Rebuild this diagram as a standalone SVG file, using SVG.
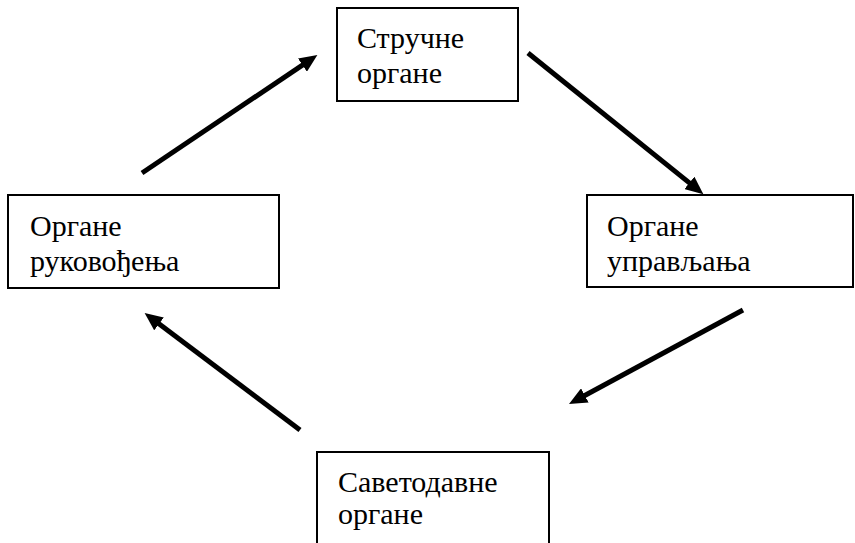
<svg xmlns="http://www.w3.org/2000/svg" width="855" height="543" viewBox="0 0 855 543">
<style>
.box{fill:#fff;stroke:#000;stroke-width:2}
.c{stroke:#000;stroke-width:5;fill:none}
.t{font-family:"Times New Roman","Liberation Serif",serif;font-size:30px;fill:#000}
</style>
<defs>
<marker id="ah" markerUnits="userSpaceOnUse" markerWidth="18" markerHeight="16" viewBox="0 0 18 16" refX="8" refY="8" orient="auto">
<path d="M0,0 L18,8 L0,16 z" fill="#000"/>
</marker>
</defs>
<rect width="855" height="543" fill="#fff"/>
<g id="connectors">
<line class="c" x1="142" y1="173" x2="309.1" y2="60.6" marker-end="url(#ah)"/>
<line class="c" x1="528" y1="53" x2="695.6" y2="187.9" marker-end="url(#ah)"/>
<line class="c" x1="743" y1="310" x2="577.8" y2="399.2" marker-end="url(#ah)"/>
<line class="c" x1="300" y1="430" x2="152.6" y2="319.1" marker-end="url(#ah)"/>
</g>
<g id="strucne">
<rect class="box" x="337" y="8" width="181" height="93"/>
<text class="t" x="357" y="48" font-family="Times New Roman, serif">Стручне</text>
<text class="t" x="357" y="83" font-family="Times New Roman, serif">органе</text>
</g>
<g id="rukovodjenja">
<rect class="box" x="8" y="195" width="271" height="93"/>
<text class="t" x="30" y="236" font-family="Times New Roman, serif">Органе</text>
<text class="t" x="30" y="271" font-family="Times New Roman, serif">руковођења</text>
</g>
<g id="upravljanja">
<rect class="box" x="587" y="195" width="266" height="92"/>
<text class="t" x="607" y="236" font-family="Times New Roman, serif">Органе</text>
<text class="t" x="607" y="271" font-family="Times New Roman, serif">управљања</text>
</g>
<g id="savetodavne">
<rect class="box" x="317" y="452" width="232" height="100"/>
<text class="t" x="338" y="492" font-family="Times New Roman, serif">Саветодавне</text>
<text class="t" x="338" y="524" font-family="Times New Roman, serif">органе</text>
</g>
</svg>
